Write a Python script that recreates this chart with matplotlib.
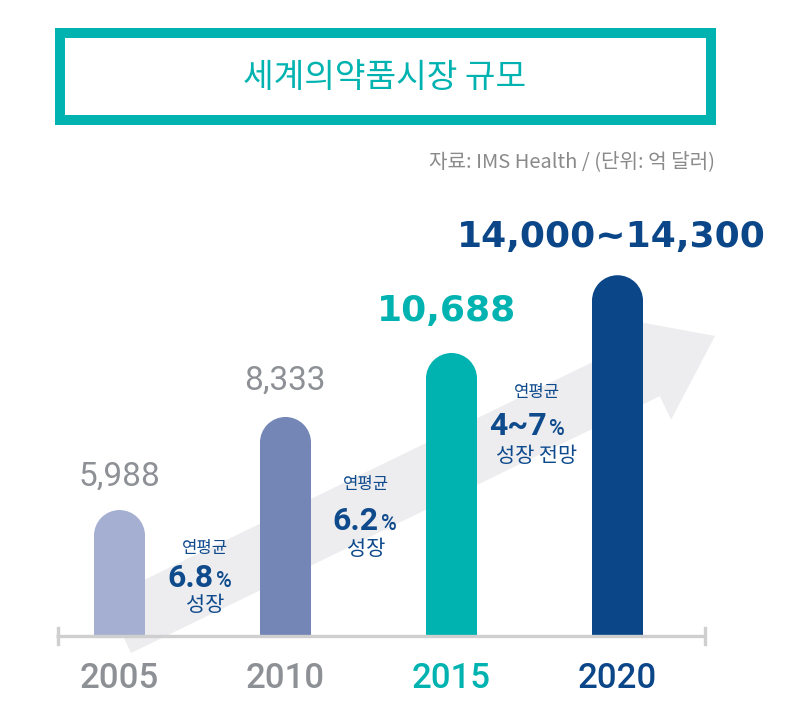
import matplotlib
matplotlib.use("Agg")
import matplotlib.pyplot as plt
from matplotlib.patches import Rectangle, Ellipse, FancyArrow

# ---------------- data ----------------
years = ["2005", "2010", "2015", "2020"]
value_labels = ["5,988", "8,333", "10,688", "14,000~14,300"]
# bar heights as drawn in the infographic (not strictly to scale), in 억 달러-like units
bar_heights = [4940, 8590, 11100, 14150]
growth_top = ["연평균", "연평균", "연평균"]
growth_rates = ["6.8", "6.2", "4~7"]
growth_bottom = ["성장", "성장", "성장 전망"]
title = "세계의약품시장 규모"
source = "자료: IMS Health / (단위: 억 달러)"

# ---------------- style ----------------
bar_colors = ["#A4AFD1", "#7486B6", "#00B3B0", "#0B4688"]
year_colors = ["#8D9095", "#8D9095", "#00B3B0", "#0B4688"]
teal = "#00B3B0"
navy = "#0E4A8C"
grey = "#8D9095"
KR = ["Noto Sans CJK KR", "DejaVu Sans"]

W, H = 804, 727
fig = plt.figure(figsize=(W / 100, H / 100), dpi=100)
fig.patch.set_facecolor("white")

# background axes in pixel coordinates (decorations + text)
bg = fig.add_axes([0, 0, 1, 1], zorder=0)
bg.set_xlim(0, W)
bg.set_ylim(H, 0)
bg.axis("off")

# bar axes
ax_l, ax_r, ax_b, ax_t = 56, 706, 636, 200
ax = fig.add_axes([ax_l / W, (H - ax_b) / H, (ax_r - ax_l) / W, (ax_b - ax_t) / H], zorder=1)
ax.patch.set_alpha(0)
px_per_x = 166.0
xmin = -(119.5 - ax_l) / px_per_x
xmax = xmin + (ax_r - ax_l) / px_per_x
YMAX = 17100
ax.set_xlim(xmin, xmax)
ax.set_ylim(0, YMAX)
units_per_px = YMAX / (ax_b - ax_t)

for s in ["top", "right", "left", "bottom"]:
    ax.spines[s].set_visible(False)
ax.set_yticks([])

# title box
bg.add_patch(Rectangle((60, 33), 651, 87, fill=False, edgecolor=teal, linewidth=7.2))
bg.text(385, 77, title, ha="center", va="center", color=teal, fontsize=24,
        family=KR, fontweight="medium")
bg.text(715, 162, source, ha="right", va="center", color="#8A8A8C", fontsize=14.5, family=KR)

# background arrow
bg.add_patch(FancyArrow(118, 626, 597, -290, width=60, head_width=112, head_length=76,
                        length_includes_head=True, color="#EDEDEF", lw=0, zorder=1))

# bars with rounded tops
bw = 51 / px_per_x
r_y = 25.5 * units_per_px
for i, (h, c) in enumerate(zip(bar_heights, bar_colors)):
    ax.add_patch(Rectangle((i - bw / 2, 0), bw, h - r_y, facecolor=c, edgecolor="none", zorder=2))
    ax.add_patch(Ellipse((i, h - r_y), bw, 2 * r_y, facecolor=c, edgecolor="none", zorder=2))

# axis base line with end ticks
ax.plot([xmin, xmax], [0, 0], color="#CFCFCF", lw=2.4, clip_on=False, zorder=3,
        solid_capstyle="butt")
d = 8 * units_per_px
for xe in (xmin + 1.5 / px_per_x, xmax - 1.5 / px_per_x):
    ax.plot([xe, xe], [-d, d], color="#CFCFCF", lw=2.4, clip_on=False, zorder=3)

# year tick labels
ax.set_xticks(range(len(years)))
ax.set_xticklabels(years, fontsize=25, family="Roboto", fontweight="medium")
ax.tick_params(axis="x", length=0, pad=19)
for lbl, c in zip(ax.get_xticklabels(), year_colors):
    lbl.set_color(c)

# value labels above bars
label_styles = [
    dict(color=grey, fontsize=24, family="Roboto", fontweight="normal"),
    dict(color=grey, fontsize=24, family="Roboto", fontweight="normal"),
    dict(color=teal, fontsize=26, family="DejaVu Sans", fontweight="bold"),
    dict(color="#0B4688", fontsize=26, family="DejaVu Sans", fontweight="bold"),
]
label_offsets_px = [33, 36, 42, 38]
label_dx_px = [0, -1, -5, -6]
for i, (h, t) in enumerate(zip(bar_heights, value_labels)):
    ax.annotate(t, xy=(i, h), xytext=(label_dx_px[i] * 0.72, label_offsets_px[i] * 0.72),
                textcoords="offset points", ha="center", va="center", **label_styles[i])

# growth annotations (pixel positions in the background axes)
top_pos = [(205, 548), (366, 485), (537, 393)]
rate_pos = [(214, 587), (379, 530), (547, 435)]
bottom_pos = [(205, 605), (366, 549), (537, 456)]
for k in range(3):
    bg.text(*top_pos[k], growth_top[k], ha="center", va="center", color=navy,
            fontsize=12, family=KR, fontweight="medium")
    bg.text(*rate_pos[k], growth_rates[k], ha="right", va="baseline", color=navy,
            fontsize=23, family="Roboto", fontweight="bold")
    bg.text(rate_pos[k][0] + 2, rate_pos[k][1], "%", ha="left", va="baseline", color=navy,
            fontsize=15.5, family="Roboto", fontweight="medium")
    bg.text(*bottom_pos[k], growth_bottom[k], ha="center", va="center", color=navy,
            fontsize=15, family=KR, fontweight="medium")

fig.savefig("out.png", dpi=100, facecolor="white")
